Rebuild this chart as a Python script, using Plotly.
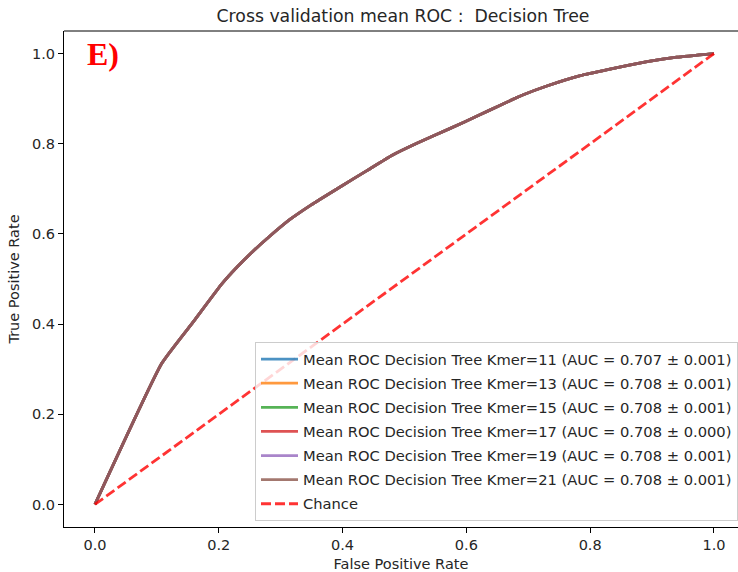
import plotly.graph_objects as go

# Mean ROC curve (interpolated FPR grid) shared by all k-mer sizes
mean_fpr = [0.0, 0.108, 0.16, 0.205, 0.23, 0.255, 0.28, 0.315, 0.35, 0.396, 0.44, 0.481,
            0.52, 0.574, 0.62, 0.654, 0.691, 0.73, 0.784, 0.83, 0.892, 0.94, 1.0]
mean_tpr = [0.0, 0.313, 0.407, 0.489, 0.527, 0.561, 0.592, 0.632, 0.665, 0.704, 0.741, 0.775,
            0.801, 0.834, 0.863, 0.885, 0.908, 0.928, 0.951, 0.965, 0.982, 0.992, 1.0]

kmers = [11, 13, 15, 17, 19, 21]
auc_mean = [0.707, 0.708, 0.708, 0.708, 0.708, 0.708]
auc_std = [0.001, 0.001, 0.001, 0.000, 0.001, 0.001]

chance_x = [0.0, 1.0]
chance_y = [0.0, 1.0]

colors = ["rgba(31,119,180,0.8)", "rgba(255,127,14,0.8)", "rgba(44,160,44,0.8)",
          "rgba(214,39,40,0.8)", "rgba(148,103,189,0.8)", "rgba(140,86,75,0.8)"]

FONT = "DejaVu Sans"
TXT = "#262626"

fig = go.Figure()

for i, k in enumerate(kmers):
    fig.add_trace(go.Scatter(
        x=mean_fpr, y=mean_tpr, mode="lines",
        line=dict(color=colors[i], width=2.8, shape="spline", smoothing=0.4),
        name=f"Mean ROC Decision Tree Kmer={k} (AUC = {auc_mean[i]:.3f} ± {auc_std[i]:.3f})",
        legendgroup=f"g{i}",
    ))

fig.add_trace(go.Scatter(
    x=chance_x, y=chance_y, mode="lines",
    line=dict(color="rgba(255,0,0,0.8)", width=2.8, dash="10px,4px"),
    name="Chance", legendgroup="chance",
))

fig.add_annotation(
    x=-0.016, y=0.998, xref="x", yref="y", xanchor="left", yanchor="middle",
    text="<b>E)</b>", showarrow=False,
    font=dict(family="Liberation Serif", size=32, color="#ff0000"),
)

# top spine
fig.add_shape(type="line", xref="paper", yref="paper", x0=0, x1=1, y0=1, y1=1,
              line=dict(color="black", width=1))

fig.update_layout(
    width=738, height=572,
    margin=dict(l=64, r=0, t=31, b=45),
    plot_bgcolor="white", paper_bgcolor="white",
    font=dict(family=FONT, size=14.5, color=TXT),
    title=dict(text="Cross validation mean ROC :\u00a0\u00a0Decision Tree",
               x=0.503, xref="paper", xanchor="center",
               y=1 - 16 / 572, yref="container", yanchor="middle",
               font=dict(family=FONT, size=17.3, color=TXT)),
    showlegend=True,
    legend=dict(
        x=0.2834, y=0.012, xanchor="left", yanchor="bottom",
        bgcolor="rgba(255,255,255,0.8)", bordercolor="#cccccc", borderwidth=1,
        font=dict(family=FONT, size=14.7, color=TXT),
        traceorder="grouped", tracegroupgap=2, itemwidth=37,
    ),
    xaxis=dict(
        range=[-0.05, 1.0388], tickvals=[0, 0.2, 0.4, 0.6, 0.8, 1.0],
        ticktext=["0.0", "0.2", "0.4", "0.6", "0.8", "1.0"],
        showgrid=False, zeroline=False, showline=True, linecolor="black", linewidth=1,
        ticks="outside", ticklen=5, tickcolor="black",
        title=dict(text="False Positive Rate", standoff=6, font=dict(size=14.5)),
    ),
    yaxis=dict(
        range=[-0.05, 1.05], tickvals=[0, 0.2, 0.4, 0.6, 0.8, 1.0],
        ticktext=["0.0", "0.2", "0.4", "0.6", "0.8", "1.0"],
        showgrid=False, zeroline=False, showline=True, linecolor="black", linewidth=1,
        ticks="outside", ticklen=5, tickcolor="black",
        title=dict(text="True Positive Rate", standoff=8, font=dict(size=14.5)),
    ),
)

fig.write_html("out.html")
